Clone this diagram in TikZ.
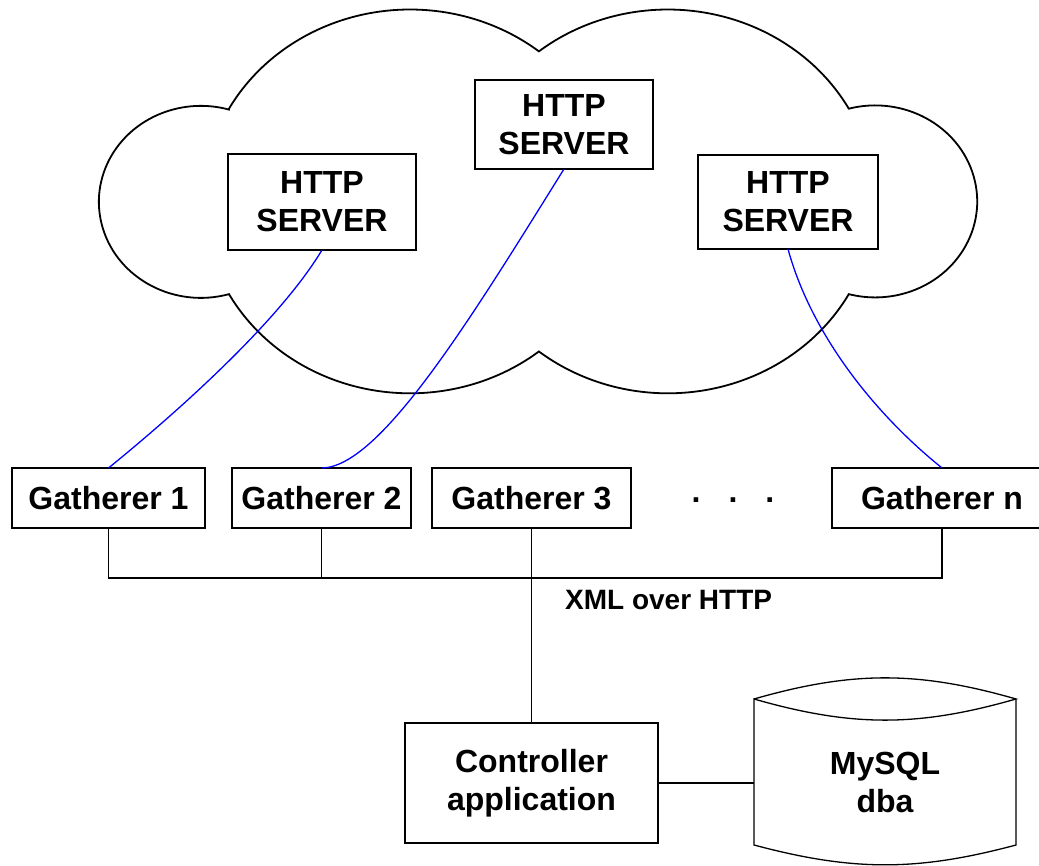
\documentclass[tikz,border=0pt]{standalone}
\usepackage{fontspec}
\setmainfont{Liberation Sans}
\usetikzlibrary{positioning}

\begin{document}
\begin{tikzpicture}[
  x=1pt, y=1pt,
  box/.style      = {draw, line width=1.3pt, fill=white, align=center, inner sep=0pt,
                     outer sep=0pt, font=\fontsize{32}{38}\selectfont\bfseries},
  server/.style   = {box},
  gatherer/.style = {box, minimum height=60pt},
  label/.style    = {align=center, font=\fontsize{32}{38}\selectfont\bfseries},
  wire/.style     = {line width=1.6pt},
  link/.style     = {blue, line width=1.3pt},
  cloudline/.style= {line width=1.8pt},
]
  \useasboundingbox (0,0) rectangle (1039,866);

  % the cloud: two big ellipses with a lobe on each side
  \draw[cloudline] (229,757.3)
    arc[start angle=151,   end angle=51.5,   x radius=207pt, y radius=192.5pt]
    arc[start angle=128.5, end angle=29,     x radius=207pt, y radius=192.5pt]
    arc[start angle=105,   end angle=-105,   x radius=102pt, y radius=96pt]
    arc[start angle=-29,   end angle=-128.5, x radius=207pt, y radius=192.5pt]
    arc[start angle=-51.5, end angle=-151,   x radius=207pt, y radius=192.5pt]
    arc[start angle=286,   end angle=74,     x radius=102pt, y radius=96pt]
    -- cycle;

  \node[server, minimum width=188pt, minimum height=96pt] (h1) at (322,664)   {HTTP\\SERVER};
  \node[server, minimum width=178pt, minimum height=89pt] (h2) at (564,741.5) {HTTP\\SERVER};
  \node[server, minimum width=180pt, minimum height=94pt] (h3) at (788,664)   {HTTP\\SERVER};

  \node[gatherer, minimum width=193pt]                   (g1) at (108.5,368) {Gatherer 1};
  \node[gatherer, minimum width=179pt, right=27pt of g1] (g2)                {Gatherer 2};
  \node[gatherer, minimum width=199pt, right=21pt of g2] (g3)                {Gatherer 3};
  \node[gatherer, minimum width=220pt]                   (gn) at (942,368)   {Gatherer n};
  \node[label] (dots) at (733,366) {.\hspace{28pt}.\hspace{28pt}.};

  \node[box, minimum width=253pt, minimum height=120pt] (ctrl) at (531.5,83) {Controller\\application};
  \node[label] (db) at (885,83.5) {MySQL\\dba};

  % database drum
  \coordinate (dbtl) at (754,167);
  \coordinate (dbtr) at (1016,167);
  \coordinate (dbbl) at (754,21);
  \coordinate (dbbr) at (1016,21);
  \draw[line width=1.3pt] (dbtl) to[bend left=16] (dbtr) to[bend left=16] (dbtl)
    -- (dbbl) to[bend right=15] (dbbr) -- (dbtr);

  % servers to gatherers
  \draw[link] (h1.south) .. controls +(-42,-70) and +(71.5,58) .. (g1.north);
  \draw[link] (h2.south) .. controls +(-94,-151) and +(58,0) .. (g2.north);
  \draw[link] (h3.south) .. controls +(22,-81) and +(-72,58) .. (gn.north);

  % gatherers to controller
  \coordinate (bus) at (0,288);
  \draw[wire] (g1.south) |- (bus -| gn.south) -- (gn.south);
  \draw[wire] (g2.south) -- (g2.south |- bus);
  \draw[wire] (g3.south) -- (ctrl.north);
  \node[anchor=west, inner sep=0pt, font=\fontsize{28}{34}\selectfont\bfseries]
    (xml) at (565,266) {XML over HTTP};

  \draw[wire] (ctrl.east) -- (ctrl.east -| dbtl);
\end{tikzpicture}
\end{document}
